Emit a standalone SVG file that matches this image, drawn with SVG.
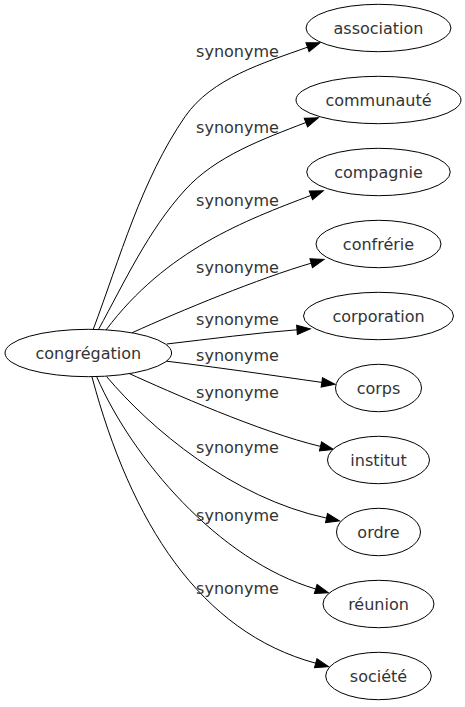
<svg xmlns="http://www.w3.org/2000/svg" width="465" height="707" viewBox="0 0 465 707">
<style>
.node ellipse{fill:#ffffff;stroke:#000000;stroke-width:1}
.node text,.lbl{font-family:"DejaVu Sans","Verdana",sans-serif;font-size:16px;fill:#333333;text-anchor:middle}
.edge{fill:none;stroke:#000000;stroke-width:1;marker-end:url(#arr)}
</style>
<defs>
<marker id="arr" markerUnits="userSpaceOnUse" markerWidth="14" markerHeight="10" refX="0" refY="4.67" orient="auto" overflow="visible">
<path d="M0,0 L13.3,4.67 L0,9.33 z" fill="#000000" stroke="#000000" stroke-width="1"/>
</marker>
</defs>
<rect width="465" height="707" fill="#ffffff"/>
<g id="edges">
<path class="edge" d="M93,330 C120,257.9 141.3,180.1 185,116.7 C211.7,78 263.3,63.1 307.5,47.2"/>
<path class="edge" d="M98.5,329.5 C124.9,281.3 148,230.8 185,190 C215.9,155.9 263,139.1 305.9,122.5"/>
<path class="edge" d="M106,330 C166,250 245,220.5 310.9,195.4"/>
<path class="edge" d="M132,332.8 C180,311 260,278 311.2,263.2"/>
<path class="edge" d="M166.7,344 C210,339 255,333 297,329.8"/>
<path class="edge" d="M165,361 C215,367 270,375 321.8,382.4"/>
<path class="edge" d="M128,373 C170,392 260,432 320.5,446.4"/>
<path class="edge" d="M106.7,376.7 C150,428 232,498 326.5,518.1"/>
<path class="edge" d="M96.7,376.7 C132,458 218,560 315.7,589"/>
<path class="edge" d="M92,377 C130.8,522.2 200,632 315.7,663.2"/>
<text class="lbl" x="237.5" y="57">synonyme</text>
<text class="lbl" x="237.5" y="133">synonyme</text>
<text class="lbl" x="237.5" y="206.4">synonyme</text>
<text class="lbl" x="237.5" y="272.5">synonyme</text>
<text class="lbl" x="237.5" y="325.4">synonyme</text>
<text class="lbl" x="237.5" y="361">synonyme</text>
<text class="lbl" x="237.5" y="398.4">synonyme</text>
<text class="lbl" x="237.5" y="452.7">synonyme</text>
<text class="lbl" x="237.5" y="521.4">synonyme</text>
<text class="lbl" x="237.5" y="593.7">synonyme</text>
</g>
<g id="n0" class="node"><ellipse cx="88.3" cy="353" rx="83.3" ry="23.7"/><text x="88.3" y="358.5">congrégation</text></g>
<g id="n1" class="node"><ellipse cx="378.5" cy="28" rx="72.5" ry="23.7"/><text x="378.5" y="33.5">association</text></g>
<g id="n2" class="node"><ellipse cx="378.5" cy="100" rx="82.5" ry="23.7"/><text x="378.5" y="105.5">communauté</text></g>
<g id="n3" class="node"><ellipse cx="378.5" cy="172" rx="71.8" ry="23.7"/><text x="378.5" y="177.5">compagnie</text></g>
<g id="n4" class="node"><ellipse cx="378.5" cy="244" rx="62.5" ry="23.7"/><text x="378.5" y="249.5">confrérie</text></g>
<g id="n5" class="node"><ellipse cx="378.5" cy="316" rx="75" ry="23.7"/><text x="378.5" y="321.5">corporation</text></g>
<g id="n6" class="node"><ellipse cx="378.5" cy="388" rx="43" ry="23.7"/><text x="378.5" y="393.5">corps</text></g>
<g id="n7" class="node"><ellipse cx="378.5" cy="460" rx="51" ry="23.7"/><text x="378.5" y="465.5">institut</text></g>
<g id="n8" class="node"><ellipse cx="378.5" cy="532" rx="42" ry="23.7"/><text x="378.5" y="537.5">ordre</text></g>
<g id="n9" class="node"><ellipse cx="378.5" cy="604" rx="55.5" ry="23.7"/><text x="378.5" y="609.5">réunion</text></g>
<g id="n10" class="node"><ellipse cx="378.5" cy="676" rx="52.8" ry="23.7"/><text x="378.5" y="681.5">société</text></g>
</svg>
